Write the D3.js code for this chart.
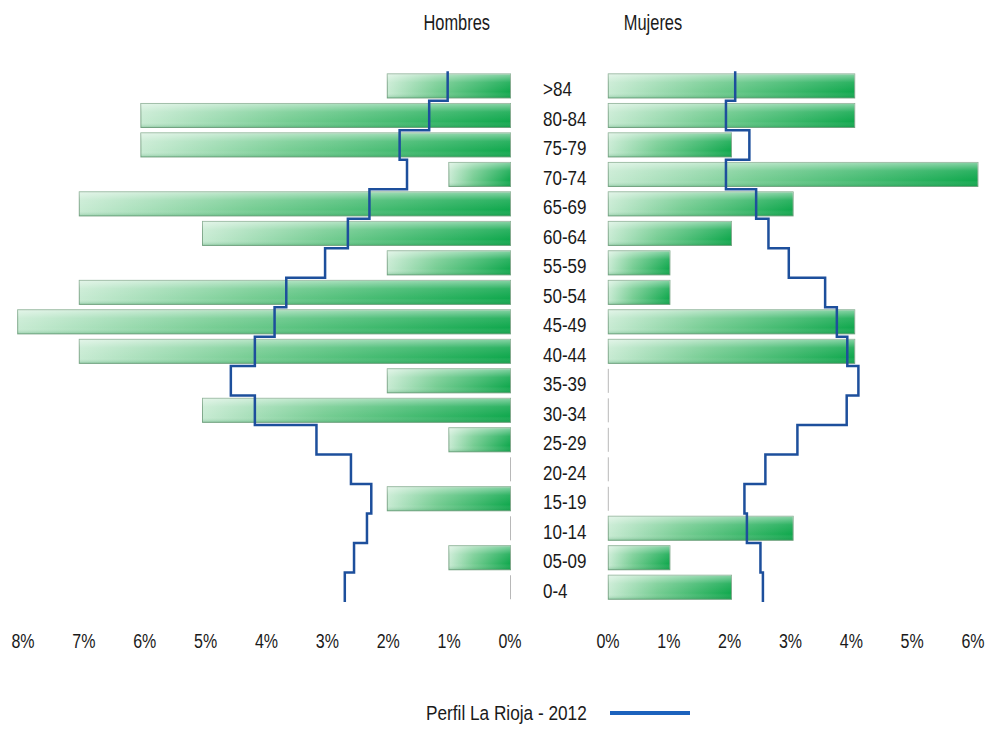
<!DOCTYPE html>
<html>
<head>
<meta charset="utf-8">
<script src="https://cdn.jsdelivr.net/npm/d3@7"></script>
<style>
  html, body { margin: 0; padding: 0; background: #fff; }
  svg { display: block; font-family: "Liberation Sans", Arial, sans-serif; }
</style>
</head>
<body>
<svg id="chart" width="990" height="731"></svg>
<script>
// ---- data ----
const categories = [">84","80-84","75-79","70-74","65-69","60-64","55-59","50-54","45-49","40-44","35-39","30-34","25-29","20-24","15-19","10-14","05-09","0-4"];
const hombres = [2,6,6,1,7,5,2,7,8,7,2,5,1,0,2,0,1,0];
const mujeres = [4,4,2,6,3,2,1,1,4,4,0,0,0,0,0,3,1,2];
const perfilHombres = [1.02,1.32,1.80,1.68,2.29,2.64,3.01,3.64,3.83,4.15,4.54,4.15,3.15,2.59,2.26,2.33,2.54,2.69];
const perfilMujeres = [2.06,1.91,2.29,1.91,2.40,2.60,2.93,3.52,3.71,3.88,4.06,3.87,3.07,2.55,2.21,2.25,2.47,2.51];
const leftTicks = [8,7,6,5,4,3,2,1,0];
const rightTicks = [0,1,2,3,4,5,6];
const titles = ["Hombres","Mujeres"];
const legendLabel = "Perfil La Rioja - 2012";

// ---- scales ----
const svg = d3.select("#chart");
const y = d3.scaleBand().domain(categories).range([71.25, 602]).paddingInner(0.186).paddingOuter(0.093);
const xL = d3.scaleLinear().domain([0, 8]).range([510.5, 17.7]);
const xR = d3.scaleLinear().domain([0, 6]).range([608.3, 977.9]);
const xLaxis = d3.scaleLinear().domain([0, 8]).range([509.5, 22.5]);
const xRaxis = d3.scaleLinear().domain([0, 6]).range([607.5, 972.5]);

// ---- gradients ----
const defs = svg.append("defs");
const g1 = defs.append("linearGradient").attr("id","barGrad").attr("x1",0).attr("y1",0).attr("x2",1).attr("y2",0);
g1.append("stop").attr("offset","0%").attr("stop-color","#c8ebd3");
g1.append("stop").attr("offset","40%").attr("stop-color","#76cd93");
g1.append("stop").attr("offset","100%").attr("stop-color","#10a84d");
const g2 = defs.append("linearGradient").attr("id","gloss").attr("x1",0).attr("y1",0).attr("x2",0).attr("y2",1);
g2.append("stop").attr("offset","0%").attr("stop-color","#ffffff").attr("stop-opacity",0.5);
g2.append("stop").attr("offset","35%").attr("stop-color","#ffffff").attr("stop-opacity",0.12);
g2.append("stop").attr("offset","75%").attr("stop-color","#ffffff").attr("stop-opacity",0);
g2.append("stop").attr("offset","100%").attr("stop-color","#0a7a35").attr("stop-opacity",0.25);

// ---- bars ----
function drawBars(vals, xs, left) {
  const g = svg.append("g");
  const data = vals.map((v, i) => ({c: categories[i], v}));
  const nz = data.filter(d => d.v > 0);
  const zero = data.filter(d => d.v === 0);
  const bx = d => left ? xs(d.v) : xs(0);
  const bw = d => Math.abs(xs(d.v) - xs(0));
  g.selectAll("rect.bar").data(nz).join("rect").attr("class","bar")
    .attr("x", bx).attr("y", d => y(d.c)).attr("width", bw).attr("height", y.bandwidth())
    .attr("fill","url(#barGrad)").attr("stroke","#7fa88a").attr("stroke-width",1);
  g.selectAll("rect.gl").data(nz).join("rect").attr("class","gl")
    .attr("x", bx).attr("y", d => y(d.c)).attr("width", bw).attr("height", y.bandwidth())
    .attr("fill","url(#gloss)");
  g.selectAll("line.zero").data(zero).join("line").attr("class","zero")
    .attr("x1", xs(0)).attr("x2", xs(0))
    .attr("y1", d => y(d.c)).attr("y2", d => y(d.c) + y.bandwidth())
    .attr("stroke","#b8b8b8").attr("stroke-width",1);
}
drawBars(hombres, xL, true);
drawBars(mujeres, xR, false);

// ---- step lines ----
const half = y.step() * y.paddingInner() / 2;
function stepPoints(vals, xs) {
  const pts = [];
  vals.forEach((v, i) => {
    const c = categories[i];
    pts.push([xs(v), y(c) - half]);
    pts.push([xs(v), y(c) + y.bandwidth() + half]);
  });
  return pts;
}
const line = d3.line();
svg.append("path").attr("d", line(stepPoints(perfilHombres, xL)))
  .attr("fill","none").attr("stroke","#1d4f9c").attr("stroke-width",2.5);
svg.append("path").attr("d", line(stepPoints(perfilMujeres, xR)))
  .attr("fill","none").attr("stroke","#1d4f9c").attr("stroke-width",2.5);

// ---- category labels ----
svg.append("g").selectAll("text").data(categories).join("text")
  .attr("transform", d => `translate(543,${y(d) + y.bandwidth()/2 + 10.5}) scale(0.83,1)`)
  .attr("font-size", 20.5).attr("fill","#1a1a1a").text(d => d);

// ---- titles ----
const titleX = [456.7, 653];
svg.append("g").selectAll("text").data(titles).join("text")
  .attr("transform", (d, i) => `translate(${titleX[i]},30) scale(0.73,1)`)
  .attr("text-anchor","middle").attr("font-size", 22.5).attr("fill","#1a1a1a").text(d => d);

// ---- axes ----
function drawAxis(sc, ticks) {
  const g = svg.append("g").attr("transform","translate(0,648)")
    .call(d3.axisBottom(sc).tickValues(ticks).tickSize(0).tickPadding(0).tickFormat(d => d + "%"));
  g.select(".domain").remove();
  g.selectAll("text").attr("y",0).attr("dy",0)
    .attr("font-size", 20).attr("font-family","Liberation Sans, Arial, sans-serif")
    .attr("fill","#1a1a1a").attr("transform","scale(0.8,1)");
}
drawAxis(xLaxis, leftTicks);
drawAxis(xRaxis, rightTicks);

// ---- legend ----
svg.append("text").attr("transform","translate(426,720) scale(0.84,1)")
  .attr("font-size", 20.5).attr("fill","#1a1a1a").text(legendLabel);
svg.append("line").attr("x1",610).attr("x2",690).attr("y1",713).attr("y2",713)
  .attr("stroke","#1c62bd").attr("stroke-width",4);
</script>
</body>
</html>
